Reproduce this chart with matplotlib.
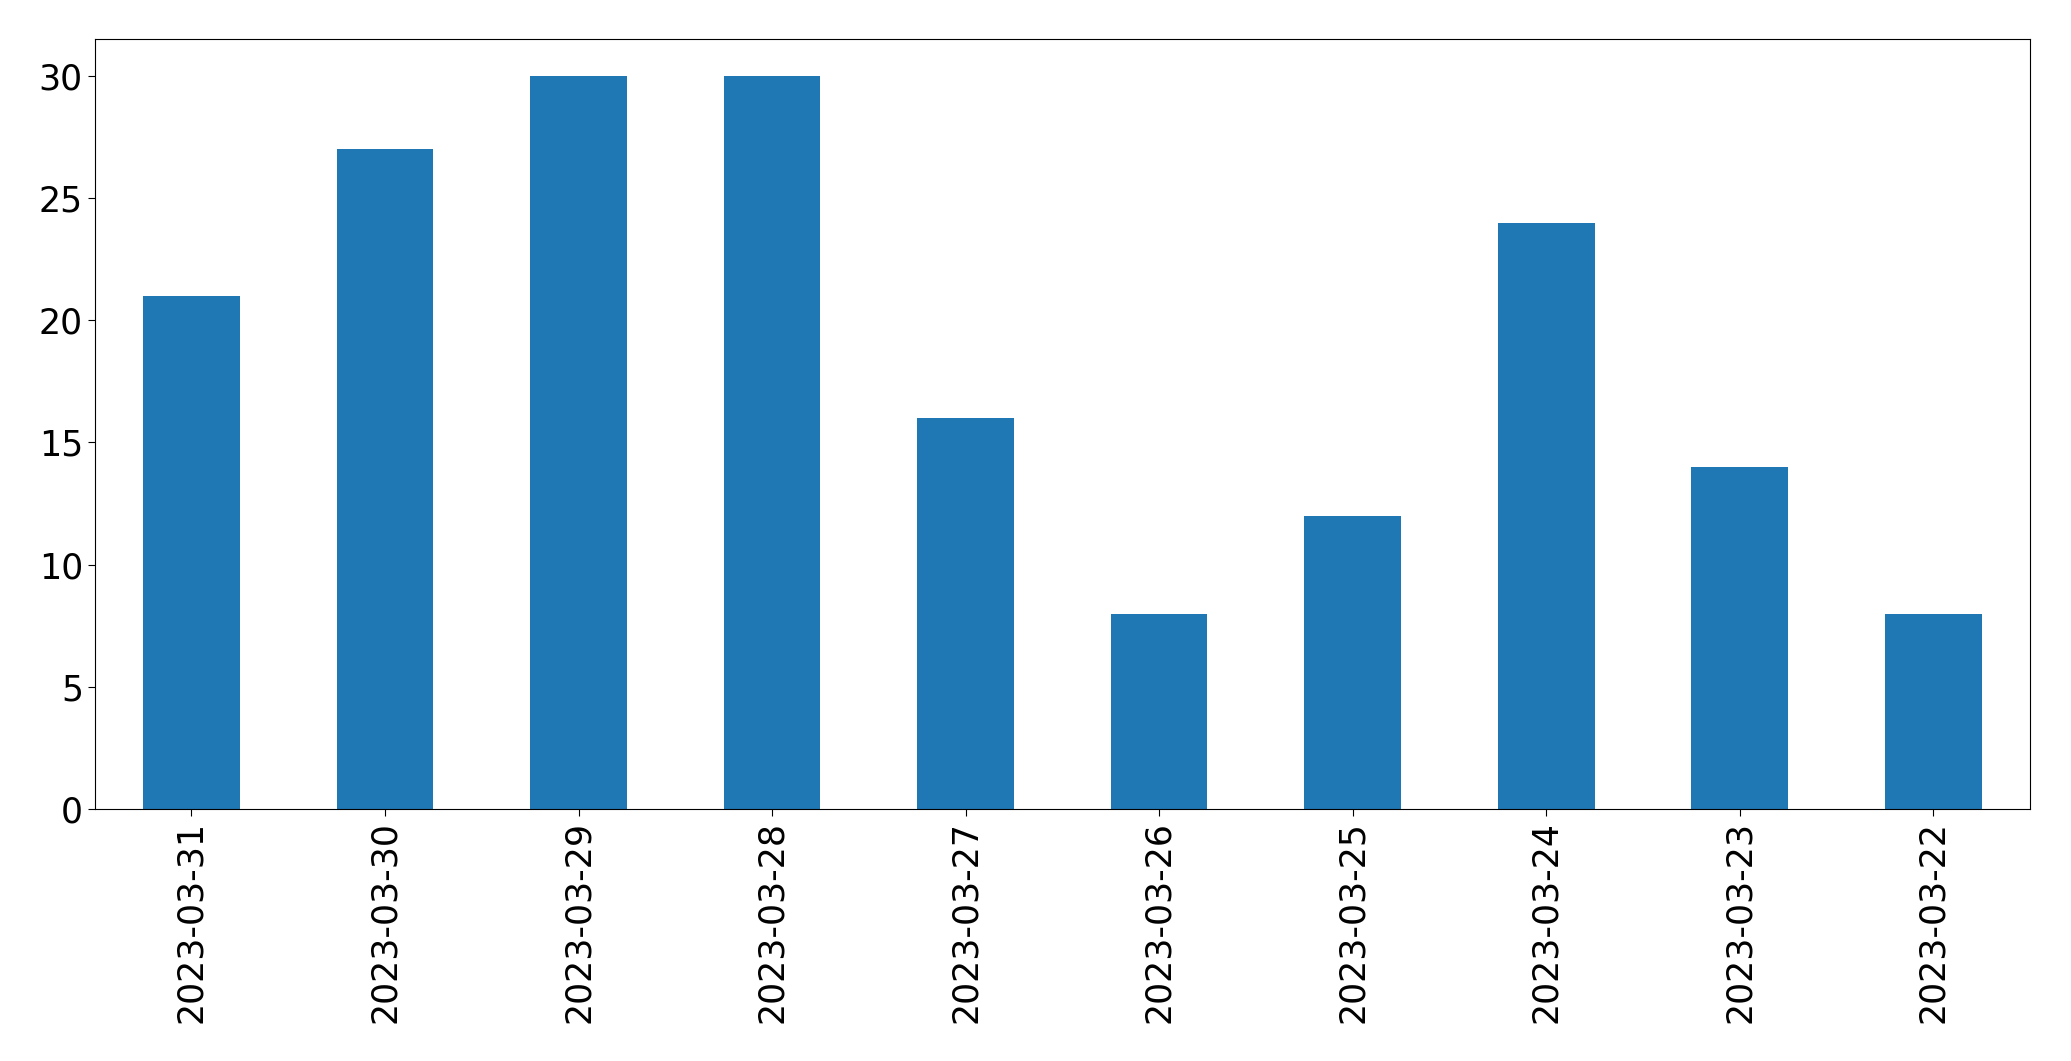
import matplotlib
matplotlib.use("Agg")
import matplotlib.pyplot as plt
import numpy as np

dates = ["2023-03-31", "2023-03-30", "2023-03-29", "2023-03-28", "2023-03-27",
         "2023-03-26", "2023-03-25", "2023-03-24", "2023-03-23", "2023-03-22"]
counts = [21, 27, 30, 30, 16, 8, 12, 24, 14, 8]

W, H = 2071, 1061
fig = plt.figure(figsize=(W / 100, H / 100), dpi=100)
ax = fig.add_axes([94.7 / W, 1 - 809 / H, (2030 - 94.7) / W, (809 - 39.3) / H])

x = np.arange(len(dates))
ax.bar(x, counts, width=0.5, color="#1f77b4")
ax.set_xlim(-0.5, len(dates) - 0.5)
ax.set_ylim(0, 31.5)
ax.set_xticks(x)
ax.set_xticklabels(dates, rotation=90)
ax.set_yticks([0, 5, 10, 15, 20, 25, 30])
ax.tick_params(labelsize=25, length=5)

fig.savefig("out.png", dpi=100)
